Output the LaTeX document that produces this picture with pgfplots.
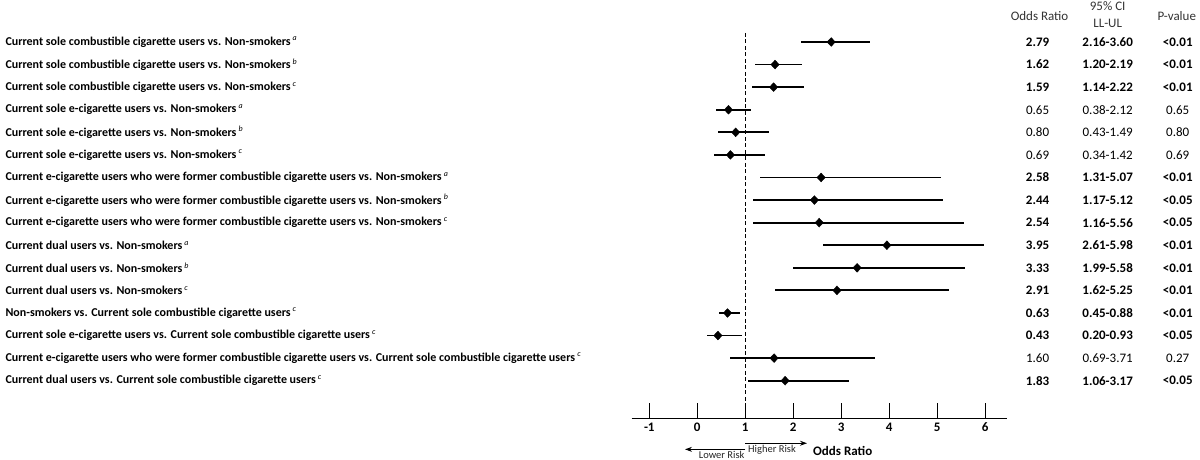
\documentclass[border=0pt]{standalone}
\usepackage{fontspec}
\setmainfont{Carlito}
\usepackage{pgfplots}
\usepackage{pgfplotstable}
\pgfplotsset{compat=1.18}
\usetikzlibrary{arrows.meta}

\pgfplotstableread{
y or lo hi
16 2.79 2.16 3.60
15 1.62 1.20 2.19
14 1.59 1.14 2.22
13 0.65 0.38 1.12
12 0.80 0.43 1.49
11 0.69 0.34 1.42
10 2.58 1.31 5.07
9 2.44 1.17 5.12
8 2.54 1.16 5.56
7 3.95 2.61 5.98
6 3.33 1.99 5.58
5 2.91 1.62 5.25
4 0.63 0.45 0.88
3 0.43 0.20 0.93
2 1.60 0.69 3.71
1 1.83 1.06 3.17
}\data

\newcommand{\labfont}{\bfseries\fontsize{12}{12}\selectfont}
\newcommand{\valfont}{\fontsize{13}{13}\selectfont}
\newcommand{\hdrfont}{\fontsize{13}{13}\selectfont}
\newcommand{\supl}[1]{\,\textsuperscript{\textit{\mdseries #1}}}

\begin{document}
\begin{tikzpicture}
\begin{axis}[
  x=48pt, y=22.58pt,
  xmin=-1.37, xmax=6.45, ymin=-0.665, ymax=17.86,
  enlargelimits=false,
  clip=false,
  axis x line*=bottom,
  axis y line=none,
  x axis line style={-, line width=1.6pt},
  xtick={-1,0,1,2,3,4,5,6},
  tick align=inside,
  major tick length=15pt,
  tick style={line width=1.4pt, black},
  xticklabel style={font=\bfseries\fontsize{13}{13}\selectfont, yshift=-1pt},
  /pgf/number format/assume math mode=true,
  ytick=\empty,
]
\addplot[black, line width=1.3pt, dash pattern=on 4pt off 2.5pt] coordinates {(1,16.4) (1,-0.3)};
\addplot[only marks, black, mark=diamond*, mark size=4.4pt, mark options={xscale=1.25},
  error bars/.cd, x dir=both, x explicit, error mark=none,
  error bar style={line width=1.8pt, black}]
  table[x=or, y=y, x error plus expr=\thisrow{hi}-\thisrow{or}, x error minus expr=\thisrow{or}-\thisrow{lo}] {\data};

% row labels
\node[anchor=west, font=\labfont] at (axis cs:-14.485,16) {Current sole combustible cigarette users vs. Non-smokers\supl{a}};
\node[anchor=west, font=\labfont] at (axis cs:-14.485,15) {Current sole combustible cigarette users vs. Non-smokers\supl{b}};
\node[anchor=west, font=\labfont] at (axis cs:-14.485,14) {Current sole combustible cigarette users vs. Non-smokers\supl{c}};
\node[anchor=west, font=\labfont] at (axis cs:-14.485,13) {Current sole e-cigarette users vs. Non-smokers\supl{a}};
\node[anchor=west, font=\labfont] at (axis cs:-14.485,12) {Current sole e-cigarette users vs. Non-smokers\supl{b}};
\node[anchor=west, font=\labfont] at (axis cs:-14.485,11) {Current sole e-cigarette users vs. Non-smokers\supl{c}};
\node[anchor=west, font=\labfont] at (axis cs:-14.485,10) {Current e-cigarette users who were former combustible cigarette users vs. Non-smokers\supl{a}};
\node[anchor=west, font=\labfont] at (axis cs:-14.485,9) {Current e-cigarette users who were former combustible cigarette users vs. Non-smokers\supl{b}};
\node[anchor=west, font=\labfont] at (axis cs:-14.485,8) {Current e-cigarette users who were former combustible cigarette users vs. Non-smokers\supl{c}};
\node[anchor=west, font=\labfont] at (axis cs:-14.485,7) {Current dual users vs. Non-smokers\supl{a}};
\node[anchor=west, font=\labfont] at (axis cs:-14.485,6) {Current dual users vs. Non-smokers\supl{b}};
\node[anchor=west, font=\labfont] at (axis cs:-14.485,5) {Current dual users vs. Non-smokers\supl{c}};
\node[anchor=west, font=\labfont] at (axis cs:-14.485,4) {Non-smokers vs. Current sole combustible cigarette users\supl{c}};
\node[anchor=west, font=\labfont] at (axis cs:-14.485,3) {Current sole e-cigarette users vs. Current sole combustible cigarette users\supl{c}};
\node[anchor=west, font=\labfont] at (axis cs:-14.485,2) {Current e-cigarette users who were former combustible cigarette users vs. Current sole combustible cigarette users\supl{c}};
\node[anchor=west, font=\labfont] at (axis cs:-14.485,1) {Current dual users vs. Current sole combustible cigarette users\supl{c}};

% headers
\node[font=\hdrfont, text=black!80] at (axis cs:7.13,17.15) {Odds Ratio};
\node[font=\hdrfont, text=black!80] at (axis cs:8.55,17.59) {95\% CI};
\node[font=\hdrfont, text=black!80] at (axis cs:8.55,16.84) {LL-UL};
\node[font=\hdrfont, text=black!80] at (axis cs:9.99,17.15) {P-value};

% value columns
\newcommand{\vrow}[5]{%
  \node[font=#5\valfont] at (axis cs:7.09,#1) {#2};
  \node[font=#5\valfont] at (axis cs:8.55,#1) {#3};
  \node[font=#5\valfont] at (axis cs:10.01,#1) {#4};}
\vrow{16}{2.79}{2.16-3.60}{<0.01}{\bfseries}
\vrow{15}{1.62}{1.20-2.19}{<0.01}{\bfseries}
\vrow{14}{1.59}{1.14-2.22}{<0.01}{\bfseries}
\vrow{13}{0.65}{0.38-2.12}{0.65}{\mdseries}
\vrow{12}{0.80}{0.43-1.49}{0.80}{\mdseries}
\vrow{11}{0.69}{0.34-1.42}{0.69}{\mdseries}
\vrow{10}{2.58}{1.31-5.07}{<0.01}{\bfseries}
\vrow{9}{2.44}{1.17-5.12}{<0.05}{\bfseries}
\vrow{8}{2.54}{1.16-5.56}{<0.05}{\bfseries}
\vrow{7}{3.95}{2.61-5.98}{<0.01}{\bfseries}
\vrow{6}{3.33}{1.99-5.58}{<0.01}{\bfseries}
\vrow{5}{2.91}{1.62-5.25}{<0.01}{\bfseries}
\vrow{4}{0.63}{0.45-0.88}{<0.01}{\bfseries}
\vrow{3}{0.43}{0.20-0.93}{<0.05}{\bfseries}
\vrow{2}{1.60}{0.69-3.71}{0.27}{\mdseries}
\vrow{1}{1.83}{1.06-3.17}{<0.05}{\bfseries}

% risk arrows
\draw[-{Stealth[length=7pt,width=5pt]}, line width=1pt] (axis cs:1,-2.04) -- (axis cs:-0.256,-2.04);
\draw[-{Stealth[length=7pt,width=5pt]}, line width=1pt] (axis cs:1,-1.77) -- (axis cs:2.285,-1.77);
\node[font=\fontsize{10.5}{10.5}\selectfont, text=black!85, inner sep=0pt] at (axis cs:0.508,-2.28) {Lower Risk};
\node[font=\fontsize{10.5}{10.5}\selectfont, text=black!85, inner sep=0pt] at (axis cs:1.556,-2.04) {Higher Risk};
\node[font=\bfseries\fontsize{13}{13}\selectfont] at (axis cs:3.03,-2.11) {Odds Ratio};

\coordinate (TL) at (axis cs:-14.527,17.86);
\coordinate (BR) at (axis cs:10.473,-2.51);
\end{axis}
\pgfresetboundingbox
\path (TL) rectangle (BR);
\end{tikzpicture}
\end{document}
